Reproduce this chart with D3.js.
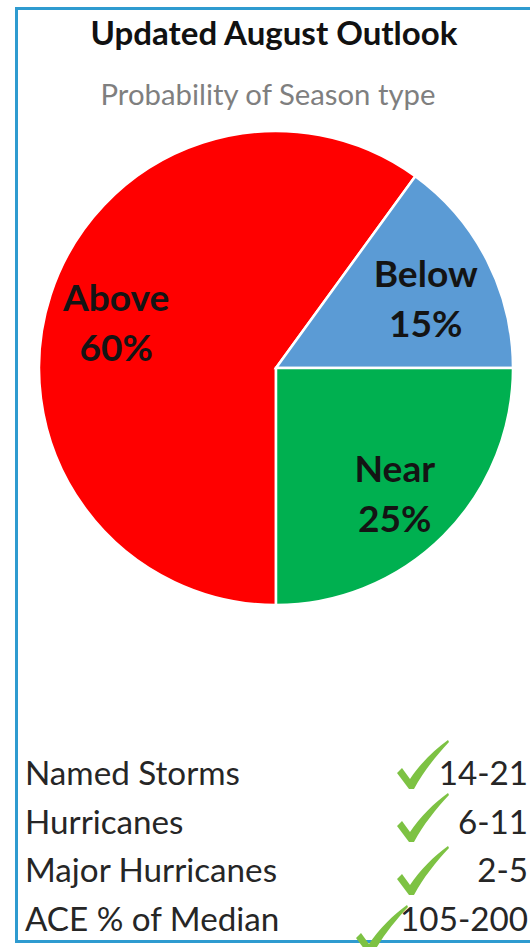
<!DOCTYPE html>
<html>
<head>
<meta charset="utf-8">
<script src="https://cdn.jsdelivr.net/npm/d3@7"></script>
<style>
  html, body { margin: 0; padding: 0; background: #fff; }
  svg { display: block; }
</style>
</head>
<body>
<svg id="chart" width="530" height="947"></svg>
<script>
// ---- data ----
const title = "Updated August Outlook";
const subtitle = "Probability of Season type";
const categories = ["Above", "Below", "Near"];
const probabilities = [60, 15, 25];
const sliceColors = ["#ff0000", "#5b9bd5", "#00b050"];
const statLabels = ["Named Storms", "Hurricanes", "Major Hurricanes", "ACE % of Median"];
const statRanges = ["14-21", "6-11", "2-5", "105-200"];

// ---- layout ----
const svg = d3.select("#chart");
const font = "Lato, 'Open Sans', sans-serif";

function fitText(sel, target) {
  const node = sel.node();
  const fs = parseFloat(sel.attr("font-size"));
  const w = node.getComputedTextLength();
  sel.attr("font-size", (fs * target / w).toFixed(2));
}

// frame
svg.append("rect")
  .attr("x", 16.5).attr("y", 8.5)
  .attr("width", 620).attr("height", 933)
  .attr("fill", "none")
  .attr("stroke", "#2f9bd0")
  .attr("stroke-width", 3);

// title
const t = svg.append("text")
  .attr("x", 274).attr("y", 45)
  .attr("text-anchor", "middle")
  .attr("font-family", font).attr("font-weight", 700)
  .attr("font-size", 26).attr("fill", "#111")
  .text(title);
fitText(t, 367);

const st = svg.append("text")
  .attr("x", 268).attr("y", 105)
  .attr("text-anchor", "middle")
  .attr("font-family", font)
  .attr("font-size", 24).attr("fill", "#7f7f7f")
  .text(subtitle);
fitText(st, 335);

// pie
const cx = 276, cy = 368, R = 237;
const pie = d3.pie().sort(null).value(d => d)
  .startAngle(Math.PI).endAngle(3 * Math.PI);
const arcs = pie(probabilities);
const arc = d3.arc().innerRadius(0).outerRadius(R);
const labelArc = d3.arc().innerRadius(168).outerRadius(168);

const g = svg.append("g").attr("transform", `translate(${cx},${cy})`);
g.selectAll("path.slice").data(arcs).enter().append("path")
  .attr("class", "slice")
  .attr("d", arc)
  .attr("fill", (d, i) => sliceColors[i])
  .attr("stroke", "#fff")
  .attr("stroke-width", 2.5)
  .attr("stroke-linejoin", "miter");

// label font size so "Below" is ~104px wide
const probe = svg.append("text")
  .attr("font-family", font).attr("font-weight", 700)
  .attr("font-size", 30).text(categories[1]);
fitText(probe, 104);
const labFs = probe.attr("font-size");
probe.remove();

const lab = g.selectAll("g.lab").data(arcs).enter().append("g")
  .attr("class", "lab")
  .attr("transform", d => { const c = labelArc.centroid(d); return `translate(${c[0]},${c[1]})`; });
lab.append("text")
  .attr("text-anchor", "middle")
  .attr("y", -5)
  .attr("font-family", font).attr("font-weight", 700)
  .attr("font-size", labFs).attr("fill", "#141414")
  .text((d, i) => categories[i]);
lab.append("text")
  .attr("text-anchor", "middle")
  .attr("y", 45)
  .attr("font-family", font).attr("font-weight", 700)
  .attr("font-size", labFs).attr("fill", "#141414")
  .text((d, i) => probabilities[i] + "%");

// stats table
const rowY = d3.scalePoint().domain(statLabels).range([785, 931]);
const first = svg.append("text")
  .attr("x", 25).attr("y", rowY(statLabels[0]))
  .attr("font-family", font).attr("font-size", 28).attr("fill", "#262626")
  .text(statLabels[0]);
fitText(first, 215);
const fs = first.attr("font-size");
first.remove();

svg.selectAll("text.statLabel").data(statLabels).enter().append("text")
  .attr("class", "statLabel")
  .attr("x", 25).attr("y", d => rowY(d))
  .attr("font-family", font).attr("font-size", fs).attr("fill", "#262626")
  .text(d => d);

svg.selectAll("text.statVal").data(statRanges).enter().append("text")
  .attr("class", "statVal")
  .attr("x", 528)
  .attr("y", (d, i) => rowY(statLabels[i]))
  .attr("text-anchor", "end")
  .attr("font-family", font).attr("font-size", fs).attr("fill", "#262626")
  .text(d => d);

// check marks
const checkPath = "M-13,-15 L-8,-20 L0,-9 C10,-24 24,-38 38,-48 L39,-46 C26,-32 13,-16 4,1 L-1,1 Z";
const checkPos = [[410, 788], [410, 841], [410, 894], [369, 953]];
svg.selectAll("path.check").data(checkPos).enter().append("path")
  .attr("class", "check")
  .attr("d", checkPath)
  .attr("transform", d => `translate(${d[0]},${d[1]})`)
  .attr("fill", "#7dc243");
</script>
</body>
</html>
